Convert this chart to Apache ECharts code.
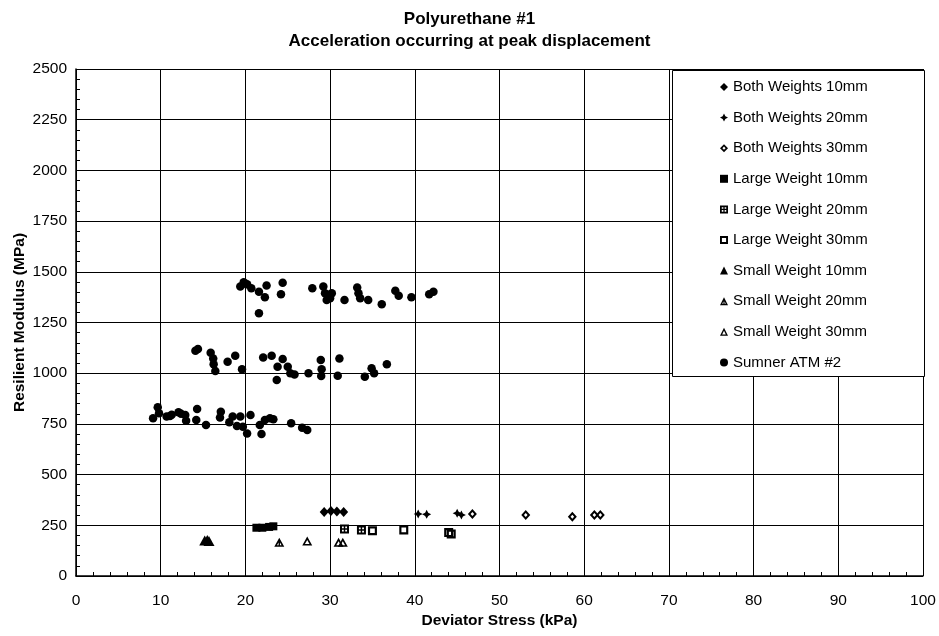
<!DOCTYPE html>
<html>
<head>
<meta charset="utf-8">
<script src="https://cdn.jsdelivr.net/npm/echarts@6/dist/echarts.min.js"></script>
<style>
  html, body { margin: 0; padding: 0; background: #fff; }
  #chart { width: 939px; height: 636px; }
</style>
</head>
<body>
<div id="chart"></div>
<script>
// Deviator stress (kPa) vs resilient modulus (MPa) for each test configuration
const bothWeights10 = [[29.3, 315], [30.1, 320], [30.8, 318], [31.6, 315]];
const bothWeights20 = [[40.4, 306], [41.4, 304], [45.0, 309], [45.5, 301]];
const bothWeights30 = [[46.8, 306], [53.1, 301], [58.6, 292], [61.2, 301], [61.9, 301]];
const largeWeight10 = [[21.3, 238], [22.0, 238], [22.8, 242], [23.3, 245]];
const largeWeight20 = [[31.7, 232], [33.7, 227]];
const largeWeight30 = [[35.0, 223], [38.7, 227], [44.0, 214], [44.3, 207]];
const smallWeight10 = [[15.2, 175], [15.5, 178], [15.7, 172]];
const smallWeight20 = [[24.0, 166]];
const smallWeight30 = [[27.3, 172], [31.0, 166], [31.5, 166]];
const sumnerATM2 = [
  [9.1, 778], [9.65, 832], [9.8, 802], [10.7, 786], [11.1, 789], [11.3, 795], [12.1, 807], [12.4, 800],
  [12.9, 794], [13.0, 766], [14.3, 823], [14.2, 769], [15.35, 745], [17.1, 810], [17.0, 782], [18.1, 758],
  [18.5, 786], [19.0, 740], [19.4, 786], [19.7, 736], [20.2, 703], [20.6, 794], [21.7, 745], [21.9, 700],
  [22.3, 769], [22.9, 778], [23.3, 773], [25.4, 753], [26.7, 731], [27.3, 720],
  [14.1, 1111], [14.4, 1119], [15.9, 1101], [16.2, 1073], [16.25, 1044], [16.45, 1011], [17.9, 1057],
  [18.8, 1086], [19.6, 1019], [22.1, 1077], [23.1, 1086], [24.4, 1070], [23.8, 1032], [25.0, 1032],
  [23.7, 966], [25.3, 1000], [25.8, 994], [27.45, 1000], [28.9, 1065], [29.0, 1019], [28.95, 986],
  [31.1, 1073], [30.9, 988], [34.1, 983], [34.9, 1024], [35.2, 1000], [36.7, 1044],
  [19.4, 1427], [19.8, 1448], [20.2, 1438], [20.7, 1419], [21.6, 1402], [22.5, 1432], [22.3, 1374],
  [21.6, 1296], [24.4, 1446], [24.2, 1389], [27.9, 1419], [29.2, 1427], [29.4, 1394], [29.6, 1361],
  [30.2, 1394], [30.0, 1369], [31.7, 1361], [33.2, 1422], [33.35, 1394], [33.55, 1369], [34.5, 1361],
  [36.1, 1340], [37.7, 1407], [38.1, 1382], [39.6, 1374], [41.7, 1389], [42.2, 1402]
];

const titleLines = ['Polyurethane #1', 'Acceleration occurring at peak displacement'];
const xAxisTitle = 'Deviator Stress (kPa)';
const yAxisTitle = 'Resilient Modulus (MPa)';

// marker shapes
const SYM = {
  star4: 'path://M5,0L6.7,3.3L10,5L6.7,6.7L5,10L3.3,6.7L0,5L3.3,3.3Z',
  openDiamond: 'path://M5,0L10,5L5,10L0,5Z M5,3L3,5L5,7L7,5Z',
  hatchSquare: 'path://M0,0H10V10H0Z M2.2,2.2V7.8H7.8V2.2Z M4.2,2H5.8V8H4.2Z M2,4.2H8V5.8H2Z',
  openSquare: 'path://M0,0H10V10H0Z M2.4,2.4V7.6H7.6V2.4Z',
  hatchTriangle: 'path://M5,0L10,10H0Z M5,3.8L2.7,8.3H7.3Z M4.3,4.2H5.7V9H4.3Z',
  openTriangle: 'path://M5,0L10,10H0Z M5,3.8L2.7,8.3H7.3Z'
};

const seriesDefs = [
  ['Both Weights 10mm', bothWeights10, 'diamond', [9, 10]],
  ['Both Weights 20mm', bothWeights20, SYM.star4, 9],
  ['Both Weights 30mm', bothWeights30, SYM.openDiamond, [9, 10]],
  ['Large Weight 10mm', largeWeight10, 'rect', 8],
  ['Large Weight 20mm', largeWeight20, SYM.hatchSquare, 9],
  ['Large Weight 30mm', largeWeight30, SYM.openSquare, 9],
  ['Small Weight 10mm', smallWeight10, 'triangle', [11, 10]],
  ['Small Weight 20mm', smallWeight20, SYM.hatchTriangle, [10, 9]],
  ['Small Weight 30mm', smallWeight30, SYM.openTriangle, [10, 9]],
  ['Sumner ATM #2', sumnerATM2, 'circle', 8.5]
];

const FONT = 'Liberation Sans, Arial, sans-serif';

const chart = echarts.init(document.getElementById('chart'), null, { renderer: 'canvas' });

chart.setOption({
  backgroundColor: '#ffffff',
  animation: false,
  title: {
    text: titleLines.join('\n'),
    left: 'center',
    top: 3,
    textStyle: { fontFamily: FONT, fontSize: 17, fontWeight: 'bold', color: '#000', lineHeight: 22 }
  },
  grid: { left: 76, right: 16, top: 69, bottom: 60, containLabel: false },
  xAxis: {
    type: 'value',
    min: 0, max: 100, interval: 10,
    name: xAxisTitle,
    nameLocation: 'middle',
    nameGap: 37,
    nameMoveOverlap: false,
    nameTextStyle: { fontFamily: FONT, fontSize: 15.5, fontWeight: 'bold', color: '#000' },
    axisLine: { show: true, onZero: false, lineStyle: { color: '#000', width: 1.5 } },
    axisTick: { show: true, inside: true, length: 5, lineStyle: { color: '#000' } },
    minorTick: { show: true, splitNumber: 5, length: 4, lineStyle: { color: '#000' } },
    axisLabel: { margin: 17, fontFamily: FONT, fontSize: 15.5, color: '#000' },
    splitLine: { show: true, lineStyle: { color: '#000', width: 1 } }
  },
  yAxis: {
    type: 'value',
    min: 0, max: 2500, interval: 250,
    name: yAxisTitle,
    nameLocation: 'middle',
    nameRotate: 90,
    nameGap: 48,
    nameMoveOverlap: false,
    nameTextStyle: { fontFamily: FONT, fontSize: 15.5, fontWeight: 'bold', color: '#000' },
    axisLine: { show: true, onZero: false, lineStyle: { color: '#000', width: 1.5 } },
    axisTick: { show: true, inside: true, length: 5, lineStyle: { color: '#000' } },
    minorTick: { show: true, splitNumber: 5, length: 4, lineStyle: { color: '#000' } },
    axisLabel: { margin: 9, fontFamily: FONT, fontSize: 15.5, color: '#000', formatter: v => String(v) },
    splitLine: { show: true, lineStyle: { color: '#000', width: 1 } }
  },
  graphic: [{
    type: 'rect',
    z: 3,
    shape: { x: 672.5, y: 70.5, width: 252, height: 306 },
    style: { fill: '#fff', stroke: '#000', lineWidth: 1 }
  }],
  legend: {
    orient: 'vertical',
    left: 720,
    top: 79,
    padding: 0,
    z: 5,
    itemWidth: 8,
    itemHeight: 8,
    itemGap: 14.6,
    textStyle: { fontFamily: FONT, fontSize: 15, color: '#000', lineHeight: 16 },
    data: seriesDefs.map(d => d[0])
  },
  series: seriesDefs.map(([name, data, symbol, size]) => ({
    name,
    type: 'scatter',
    data,
    symbol,
    symbolSize: size,
    itemStyle: { color: '#000', opacity: 1 },
    z: 2
  }))
});
</script>
</body>
</html>
